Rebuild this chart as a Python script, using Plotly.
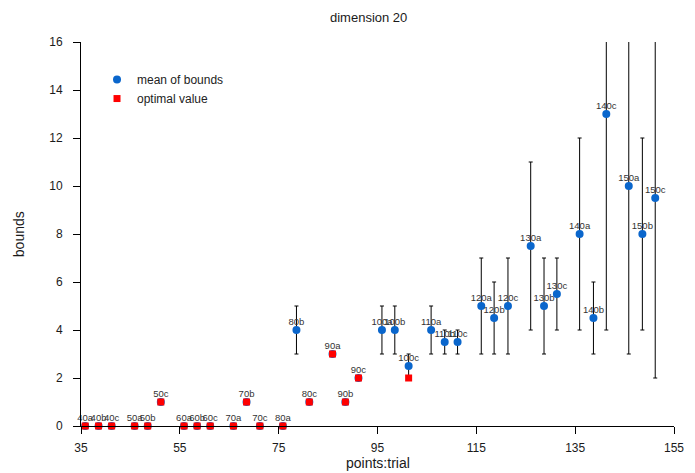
import plotly.graph_objects as go

labels = ["40a","40b","40c","50a","50b","50c","60a","60b","60c","70a","70b","70c",
          "80a","80b","80c","90a","90b","90c","100a","100b","100c","110a","110b","110c",
          "120a","120b","120c","130a","130b","130c","140a","140b","140c","150a","150b","150c"]

x_pos = [35.85, 38.55, 41.2, 45.85, 48.5, 51.15, 55.85, 58.5, 61.15, 65.85, 68.5, 71.2,
         75.85, 78.6, 81.2, 85.9, 88.5, 91.15, 95.9, 98.5, 101.3, 105.85, 108.6, 111.2,
         116.0, 118.6, 121.4, 126.0, 128.7, 131.3, 135.9, 138.7, 141.3, 145.85, 148.6, 151.2]

mean_bounds = [0, 0, 0, 0, 0, 1, 0, 0, 0, 0, 1, 0,
               0, 4, 1, 3, 1, 2, 4, 4, 2.5, 4, 3.5, 3.5,
               5, 4.5, 5, 7.5, 5, 5.5, 8, 4.5, 13, 10, 8, 9.5]

bound_err = [0, 0, 0, 0, 0, 0, 0, 0, 0, 0, 0, 0,
             0, 1, 0, 0, 0, 0, 1, 1, 0.5, 1, 0.5, 0.5,
             2, 1.5, 2, 3.5, 2, 1.5, 4, 1.5, 9, 7, 4, 7.5]

optimal = [0, 0, 0, 0, 0, 1, 0, 0, 0, 0, 1, 0,
           0, None, 1, 3, 1, 2, None, None, 2, None, None, None,
           None, None, None, None, None, None, None, None, None, None, None, None]

x_ticks = [35, 55, 75, 95, 115, 135, 155]
y_ticks = [0, 2, 4, 6, 8, 10, 12, 14, 16]

FONT = "Liberation Sans, Arial, Helvetica, sans-serif"
BLUE = "#0a66cc"
RED = "#ff0000"

fig = go.Figure()

# error bars (clipped to plot area)
fig.add_trace(go.Scatter(
    x=x_pos, y=mean_bounds, mode="markers",
    marker=dict(size=1, opacity=0),
    error_y=dict(type="data", array=bound_err, symmetric=True,
                 color="black", thickness=1, width=2),
    showlegend=False, hoverinfo="skip", cliponaxis=True,
))

fig.add_trace(go.Scatter(
    x=x_pos, y=mean_bounds, mode="markers", name="mean of bounds",
    marker=dict(symbol="circle", size=8, color=BLUE, line=dict(width=0)),
    cliponaxis=False,
))

fig.add_trace(go.Scatter(
    x=x_pos, y=optimal, mode="markers", name="optimal value",
    marker=dict(symbol="square", size=7, color=RED, line=dict(width=0)),
    cliponaxis=False,
))

# point labels (invisible small marker only sets the text offset)
fig.add_trace(go.Scatter(
    x=x_pos, y=mean_bounds, mode="markers+text", text=labels,
    textposition="top center",
    textfont=dict(family=FONT, size=9.5, color="#333333"),
    marker=dict(size=3, opacity=0),
    showlegend=False, hoverinfo="skip", cliponaxis=False,
))

axis_common = dict(
    showgrid=False, zeroline=False, showline=True, linecolor="black", linewidth=1,
    ticks="outside", ticklen=7, tickwidth=1, tickcolor="black",
    tickfont=dict(family=FONT, size=12, color="#1a1a1a"),
)

# the page body adds an 8px offset; the figure is sized so the plot lands where the reference has it
fig.update_layout(
    width=687, height=465,
    margin=dict(l=73, r=11, t=34, b=47),
    paper_bgcolor="white", plot_bgcolor="white",
    font=dict(family=FONT, color="#1a1a1a"),
    xaxis=dict(range=[35, 155], tickvals=x_ticks, ticklabelstandoff=4, **axis_common),
    yaxis=dict(range=[0, 16], tickvals=y_ticks, ticklabelstandoff=8, **axis_common),
    legend=dict(x=0.027, y=0.94, xanchor="left", yanchor="top",
                bgcolor="rgba(0,0,0,0)", font=dict(family=FONT, size=12, color="#222222")),
    annotations=[
        dict(text="dimension 20", xref="paper", yref="paper", x=0.485, y=1.0885,
             xanchor="center", yanchor="top", showarrow=False,
             font=dict(family=FONT, size=13, color="#1a1a1a")),
        dict(text="points:trial", xref="paper", yref="paper", x=0.5, y=-0.0964,
             xanchor="center", yanchor="middle", showarrow=False,
             font=dict(family=FONT, size=14, color="#1a1a1a")),
        dict(text="bounds", xref="paper", yref="paper", x=-0.1211, y=0.5,
             xanchor="left", yanchor="middle", showarrow=False, textangle=-90,
             font=dict(family=FONT, size=14, color="#1a1a1a")),
    ],
)

fig.write_html("out.html")
